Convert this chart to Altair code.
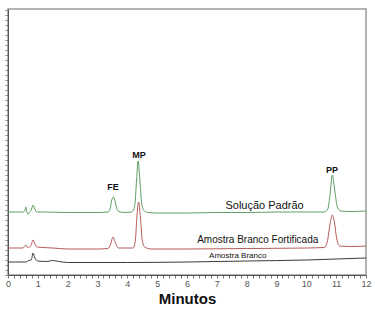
import altair as alt
import pandas as pd
import numpy as np

# Chromatogram traces: (time in minutes, detector signal)
green_t = [0, 0.5, 0.56, 0.6, 0.64, 0.68, 0.72, 0.78, 0.84, 0.9, 0.96, 1.2, 2, 3, 3.35, 3.42, 3.48, 3.53, 3.58, 3.64, 3.72, 3.9,
           4.15, 4.25, 4.31, 4.36, 4.42, 4.48, 4.57, 4.7, 5, 6, 7, 8, 9, 10, 10.6, 10.72, 10.8, 10.87, 10.95, 11.04, 11.15, 11.5, 12]
green_v = [63, 63, 64, 68, 62, 61, 63, 65, 70, 66, 63, 63, 62.5, 62.5, 63, 66, 75, 78, 75, 67, 63.5, 62.5,
           63, 70, 95, 114, 95, 72, 64, 62.5, 62, 62, 62.5, 62.5, 63, 63, 63, 66, 82, 100, 85, 68, 64, 63.5, 64]

red_t = [0, 0.5, 0.6, 0.66, 0.76, 0.84, 0.9, 0.98, 1.5, 2, 3, 3.35, 3.44, 3.52, 3.6, 3.7, 4.2, 4.27, 4.32, 4.38, 4.44, 4.5, 4.58,
         4.8, 6, 8, 10, 10.6, 10.7, 10.8, 10.87, 10.94, 11.02, 11.12, 11.5, 12]
red_v = [27, 27, 30, 27.5, 29, 35, 31, 28, 27, 26, 26, 26.5, 31, 38, 32, 27, 27, 35, 58, 73, 57, 35, 28,
         26, 26, 26.5, 27, 27.5, 33, 52, 60, 53, 36, 29, 28.5, 29]

black_t = [0, 0.6, 0.7, 0.78, 0.84, 0.9, 1.0, 1.3, 1.5, 1.7, 2, 4, 6, 8, 10, 11, 12]
black_v = [13, 13, 14.5, 15, 22, 17, 14, 13.5, 14.5, 13.5, 12.5, 12.5, 13, 14, 15, 16, 17]

series_names = ["Solução Padrão", "Amostra Branco Fortificada", "Amostra Branco"]
series_colors = ["#5e9e62", "#b55a5a", "#3a3a3a"]

peak_labels = ["FE", "MP", "PP"]
peak_x = [3.52, 4.39, 10.86]
peak_y = [88, 120, 105]

trace_label_x = [8.6, 8.37, 7.7]
trace_label_y = [69, 35, 19]
trace_label_size = [11, 10, 8]

rows = []
for name, ts, vs in zip(series_names, [green_t, red_t, black_t], [green_v, red_v, black_v]):
    for i, (t, v) in enumerate(zip(ts, vs)):
        rows.append({"series": name, "t": t, "v": v, "order": i})
df = pd.DataFrame(rows)

x_ticks = [float(round(v, 1)) for v in np.arange(0, 12.01, 0.2)]
y_ticks = [float(v) for v in range(0, 267, 5)]

X = alt.X("t:Q", scale=alt.Scale(domain=[0, 12], nice=False, zero=False), title="Minutos",
          axis=alt.Axis(values=x_ticks, tickSize=3, tickWidth=1, tickColor="#777", domainColor="#555",
                        labelExpr="abs(datum.value - round(datum.value)) < 0.01 ? format(datum.value, 'd') : ''",
                        labelOverlap=False, labelFlush=False,
                        labelFontSize=9, labelColor="#555", labelFont="Liberation Sans",
                        labelPadding=1, titleFont="Liberation Sans", titleFontSize=15,
                        titleFontWeight="bold", titleColor="#111", titlePadding=3, grid=False))
Y = alt.Y("v:Q", scale=alt.Scale(domain=[0, 266], nice=False), title=None,
          axis=alt.Axis(values=y_ticks, labels=False, tickSize=3, tickWidth=1, tickColor="#888",
                        domainColor="#555", grid=False))

lines = alt.Chart(df).mark_line(strokeWidth=1, interpolate="monotone").encode(
    x=X, y=Y,
    color=alt.Color("series:N", scale=alt.Scale(domain=series_names, range=series_colors), legend=None),
    order="order:Q",
)

peaks_df = pd.DataFrame({"label": peak_labels, "t": peak_x, "v": peak_y})
peaks = alt.Chart(peaks_df).mark_text(font="Liberation Sans", fontSize=9, fontWeight="bold",
                                      color="#111").encode(x=X, y=Y, text="label:N")

tl_df = pd.DataFrame({"label": series_names, "t": trace_label_x, "v": trace_label_y, "size": trace_label_size})
tlabels = alt.Chart(tl_df).mark_text(font="Liberation Sans", color="#111").encode(
    x=X, y=Y, text="label:N", size=alt.Size("size:Q", scale=None, legend=None))

chart = alt.layer(lines, peaks, tlabels).properties(
    width=358, height=266,
    autosize=alt.AutoSizeParams(type="none"),
    padding={"left": 8, "top": 9, "right": 9, "bottom": 38},
    background="white",
).configure_view(stroke="#9a9a9a", strokeWidth=1.5)

chart.save("out.html", embed_options={"renderer": "svg", "actions": False})
